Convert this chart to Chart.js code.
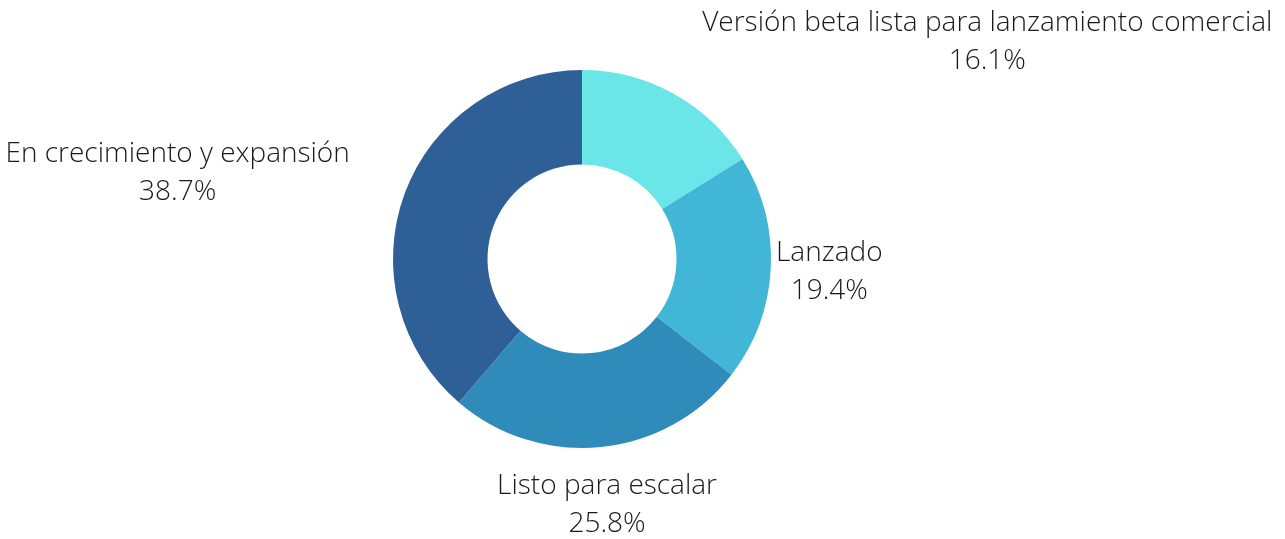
<!DOCTYPE html>
<html>
<head>
<meta charset="utf-8">
<script src="https://cdn.jsdelivr.net/npm/chart.js@4.4.0/dist/chart.umd.min.js"></script>
<style>
  html, body { margin: 0; padding: 0; background: #fff; }
  #wrap { width: 1285px; height: 539px; }
</style>
</head>
<body>
<div id="wrap"><canvas id="myChart"></canvas></div>
<script>
// data
const stages = ['Versión beta lista para lanzamiento comercial', 'Lanzado', 'Listo para escalar', 'En crecimiento y expansión'];
const counts = [5, 6, 8, 12];
const colors = ['#6be6e8', '#41b6d6', '#2e8bba', '#2e5f97'];

const FONT = '300 28px "Open Sans"';
const LINE = 38;

// labels outside the ring, pushed sideways when they would hit the circle
const outsideLabels = {
    id: 'outsideLabels',
    afterDatasetsDraw(chart) {
        const ctx = chart.ctx;
        const meta = chart.getDatasetMeta(0);
        const total = counts.reduce((a, b) => a + b, 0);
        ctx.save();
        ctx.font = FONT;
        ctx.fillStyle = '#1a1a1a';
        ctx.textBaseline = 'middle';
        meta.data.forEach((arc, i) => {
            const p = arc.getProps(['x', 'y', 'startAngle', 'endAngle', 'outerRadius'], true);
            const mid = (p.startAngle + p.endAngle) / 2;
            const r = p.outerRadius * 1.31;
            const ax = p.x + Math.cos(mid) * r;
            const ay = p.y + Math.sin(mid) * r;
            const lines = [stages[i], (counts[i] / total * 100).toFixed(1) + '%'];
            const w = Math.max(...lines.map(t => ctx.measureText(t).width));
            const h = LINE * 2;
            // block centred on the anchor point
            let cx = ax;
            let left = cx - w / 2, top = ay - h / 2;
            // nearest point of block to circle centre
            const nx = Math.max(left, Math.min(p.x, left + w));
            const ny = Math.max(top, Math.min(p.y, top + h));
            if (Math.hypot(nx - p.x, ny - p.y) < p.outerRadius) {
                cx = Math.cos(mid) > 0 ? ax + w / 2 : ax - w / 2;
            }
            ctx.textAlign = 'center';
            lines.forEach((t, k) => {
                ctx.fillText(t, cx, ay - LINE / 2 + k * LINE);
            });
        });
        ctx.restore();
    }
};

const ctx = document.getElementById('myChart').getContext('2d');
const myChart = new Chart(ctx, {
    type: 'doughnut',
    data: {
        labels: stages,
        datasets: [{
            data: counts,
            backgroundColor: colors,
            borderWidth: 0
        }]
    },
    options: {
        responsive: true,
        maintainAspectRatio: false,
        animation: false,
        cutout: '50%',
        layout: {
            padding: { left: 0, right: 121, top: 70, bottom: 91 }
        },
        plugins: {
            legend: { display: false },
            tooltip: { enabled: false }
        }
    },
    plugins: [outsideLabels]
});
</script>
</body>
</html>
